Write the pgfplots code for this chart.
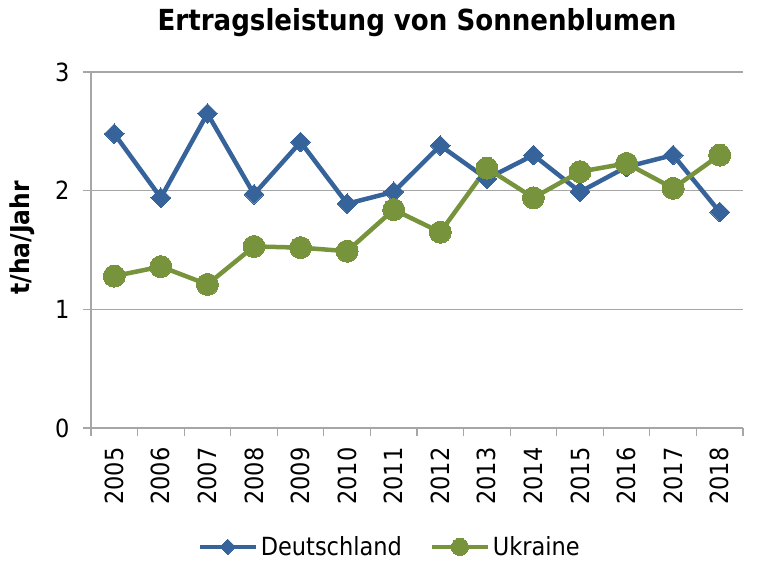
\documentclass[border=0pt]{standalone}
\usepackage{fontspec}
\setmainfont{DejaVu Sans Condensed}
\usepackage{pgfplots}
\pgfplotsset{compat=1.18}
\definecolor{deblue}{HTML}{36639A}
\definecolor{uagreen}{HTML}{77933C}
\definecolor{gridgray}{HTML}{A6A6A6}
\begin{document}
\begin{tikzpicture}
\begin{axis}[
  at={(0pt,0pt)}, anchor=south west,
  scale only axis, width=652pt, height=356pt,
  xmin=0.5, xmax=14.5, ymin=0, ymax=3,
  ytick={0,1,2,3},
  ymajorgrids, grid style={gridgray, line width=1.2pt},
  axis x line*=bottom, axis y line*=left,
  axis line style={gridgray, line width=1.2pt, -},
  xtick={0.5,1.5,...,14.5},
  xticklabels={2005,2006,2007,2008,2009,2010,2011,2012,2013,2014,2015,2016,2017,2018},
  x tick label as interval,
  tick align=outside,
  major tick length=8pt,
  tick style={gridgray, line width=1.2pt},
  /pgf/number format/assume math mode=true,
  tick label style={font=\fontsize{25}{28}\selectfont, text=black},
  x tick label style={yshift=-8pt, rotate=90, anchor=east},
  y tick label style={anchor=east, xshift=-10pt},
  ylabel={\textbf{t/ha/Jahr}},
  ylabel style={at={(axis description cs:-0.106,0.534)}, anchor=center, font=\fontsize{26}{29}\selectfont},
  title={\textbf{Ertragsleistung von Sonnenblumen}},
  title style={at={(axis description cs:0.5,1)}, anchor=center, yshift=43pt, font=\fontsize{29}{33}\selectfont},
  legend columns=2,
  legend style={at={(axis description cs:0.459,-0.334)}, anchor=center, draw=none, fill=none,
    font=\fontsize{25}{28}\selectfont, column sep=0pt,
    /tikz/every even column/.append style={column sep=25pt},
    nodes={inner xsep=3pt}},
  legend image code/.code={\draw[#1, line width=4pt, mark repeat=2, mark phase=2, every mark/.append style={scale=0.78}] plot coordinates {(0pt,0pt) (28pt,0pt) (56pt,0pt)};},
]
\addplot[deblue, line width=4.5pt, mark=square*, mark size=7pt, mark options={rotate=45, line width=0pt}] coordinates {
(1,2.48) (2,1.94) (3,2.65) (4,1.97) (5,2.41) (6,1.89) (7,1.99)
(8,2.38) (9,2.10) (10,2.30) (11,1.99) (12,2.20) (13,2.30) (14,1.82)};
\addlegendentry{Deutschland}
\addplot[uagreen, line width=4.5pt, mark=*, mark size=11pt, mark options={line width=0pt}] coordinates {
(1,1.28) (2,1.36) (3,1.21) (4,1.53) (5,1.52) (6,1.49) (7,1.84)
(8,1.65) (9,2.19) (10,1.94) (11,2.16) (12,2.23) (13,2.02) (14,2.30)};
\addlegendentry{Ukraine}
\end{axis}
\pgfresetboundingbox
\path[use as bounding box] (-91pt,-133pt) rectangle (666pt,428pt);
\end{tikzpicture}
\end{document}
